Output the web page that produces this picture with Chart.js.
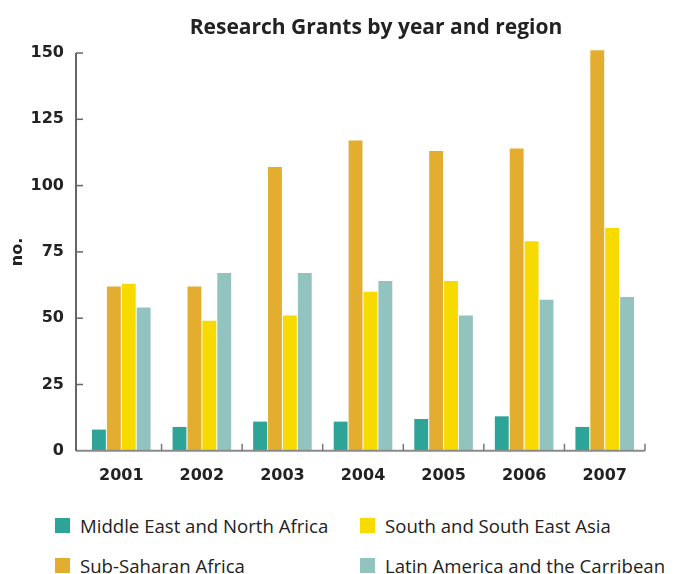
<!DOCTYPE html>
<html>
<head>
<meta charset="utf-8">
<script src="https://cdn.jsdelivr.net/npm/chart.js@4.4.1/dist/chart.umd.min.js"></script>
<style>
  body { margin: 0; background: #fff; font-family: "Open Sans", sans-serif; }
  #wrap { position: relative; width: 681px; height: 574px; }
  #title { position: absolute; top: 12px; left: 0; width: 752px; text-align: center;
           font: bold 21px "Open Sans", sans-serif; color: #222; }
  #chartBox { position: absolute; top: 0; left: 0; width: 681px; height: 500px; }
  #legend { position: absolute; top: 514px; left: 55px; display: grid;
            grid-template-columns: 305px 320px; row-gap: 17px; }
  .item { display: flex; align-items: center; font-size: 18.6px; color: #222; height: 23px; }
  .sw { width: 15px; height: 15px; margin-right: 10px; flex: none; }
</style>
</head>
<body>
<div id="wrap">
  <div id="chartBox"><canvas id="grants"></canvas></div>
  <div id="title">Research Grants by year and region</div>
  <div id="legend"></div>
</div>
<script>
// dados
const years = ['2001', '2002', '2003', '2004', '2005', '2006', '2007'];
const menaValues = [8, 9, 11, 11, 12, 13, 9];
const subSaharanValues = [62, 62, 107, 117, 113, 114, 151];
const southAsiaValues = [63, 49, 51, 60, 64, 79, 84];
const latinAmericaValues = [54, 67, 67, 64, 51, 57, 58];
const yTicks = [0, 25, 50, 75, 100, 125, 150];

const regions = [
    { label: 'Middle East and North Africa', data: menaValues, color: '#2ea398' },
    { label: 'Sub-Saharan Africa', data: subSaharanValues, color: '#e3ad2f' },
    { label: 'South and South East Asia', data: southAsiaValues, color: '#f7da00' },
    { label: 'Latin America and the Carribean', data: latinAmericaValues, color: '#92c3bf' }
];

const tickFont = { family: 'DejaVu Sans', size: 16, weight: 'bold' };
const axisGap = 5; // o eixo y fica um pouco à esquerda da primeira categoria

// linhas e marcas dos eixos (marcas para dentro)
const axesLines = {
    id: 'axesLines',
    afterDraw(chart) {
        const ctx = chart.ctx;
        const x = chart.scales.x;
        const y = chart.scales.y;
        const ax = x.left - axisGap;
        ctx.save();
        // eixo x
        ctx.strokeStyle = '#8a8a8a';
        ctx.lineWidth = 2;
        ctx.beginPath();
        ctx.moveTo(ax, y.bottom);
        ctx.lineTo(x.right, y.bottom);
        ctx.stroke();
        // eixo y
        ctx.strokeStyle = '#333';
        ctx.lineWidth = 1.5;
        ctx.beginPath();
        ctx.moveTo(ax, y.top);
        ctx.lineTo(ax, y.bottom);
        ctx.stroke();
        ctx.strokeStyle = '#666';
        yTicks.forEach(v => {
            if (v === 0) return;
            const py = y.getPixelForValue(v);
            ctx.beginPath();
            ctx.moveTo(ax, py);
            ctx.lineTo(ax + 7, py);
            ctx.stroke();
        });
        ctx.strokeStyle = '#777';
        for (let i = 1; i <= years.length; i++) {
            const px = x.getPixelForValue(i - 0.5);
            ctx.beginPath();
            ctx.moveTo(px, y.bottom);
            ctx.lineTo(px, y.bottom - 7);
            ctx.stroke();
        }
        ctx.restore();
    }
};

new Chart(document.getElementById('grants'), {
    type: 'bar',
    data: {
        labels: years,
        datasets: regions.map(r => ({
            label: r.label,
            data: r.data,
            backgroundColor: r.color,
            borderWidth: 0,
            clip: false,
            barPercentage: 0.93,
            categoryPercentage: 0.74
        }))
    },
    options: {
        responsive: true,
        maintainAspectRatio: false,
        animation: false,
        layout: { padding: { top: 53, right: 36, bottom: 0, left: 0 } },
        plugins: {
            legend: { display: false },
            tooltip: { enabled: false }
        },
        scales: {
            x: {
                grid: { display: false, drawTicks: false },
                border: { display: false },
                ticks: { color: '#222', font: tickFont, padding: 15 }
            },
            y: {
                min: 0,
                max: 150,
                afterBuildTicks(scale) {
                    scale.ticks = yTicks.map(v => ({ value: v }));
                },
                afterFit(scale) { scale.width = 76 + axisGap; },
                grid: { display: false, drawTicks: false },
                border: { display: false },
                ticks: { color: '#222', font: tickFont, padding: 12 + axisGap },
                title: {
                    display: true,
                    text: 'no.',
                    color: '#222',
                    font: tickFont,
                    padding: { top: 8, bottom: 0 }
                }
            }
        }
    },
    plugins: [axesLines]
});

// legenda em duas colunas
const legendEl = document.getElementById('legend');
[regions[0], regions[2], regions[1], regions[3]].forEach(r => {
    const item = document.createElement('div');
    item.className = 'item';
    const sw = document.createElement('span');
    sw.className = 'sw';
    sw.style.background = r.color;
    const txt = document.createElement('span');
    txt.textContent = r.label;
    item.appendChild(sw);
    item.appendChild(txt);
    legendEl.appendChild(item);
});
</script>
</body>
</html>
